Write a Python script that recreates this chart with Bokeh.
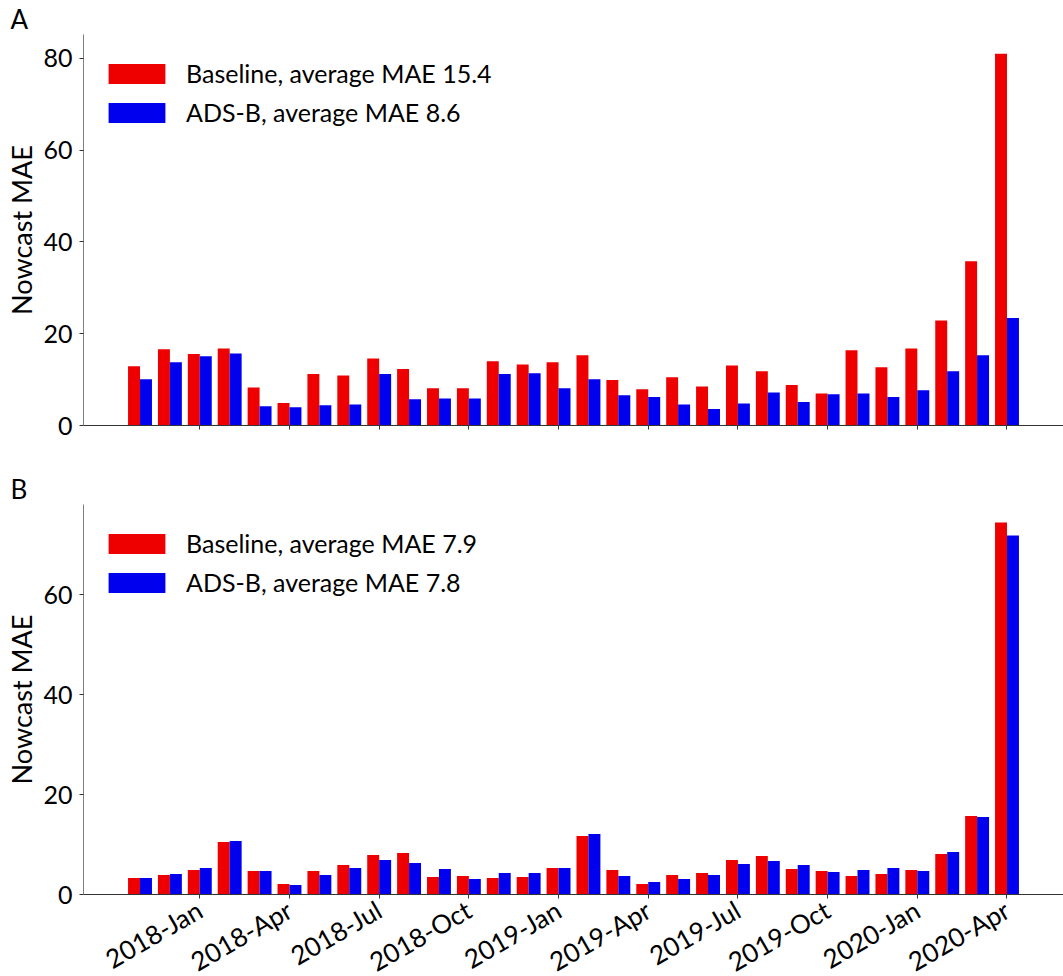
import math
from bokeh.plotting import figure
from bokeh.layouts import column
from bokeh.models import (FixedTicker, Legend, LegendItem, Range1d, Title,
                          ColumnDataSource, LinearAxis)
from bokeh.transform import dodge
from bokeh.embed import file_html
from bokeh.resources import INLINE

months = ["2017-Nov", "2017-Dec",
          "2018-Jan", "2018-Feb", "2018-Mar", "2018-Apr", "2018-May", "2018-Jun",
          "2018-Jul", "2018-Aug", "2018-Sep", "2018-Oct", "2018-Nov", "2018-Dec",
          "2019-Jan", "2019-Feb", "2019-Mar", "2019-Apr", "2019-May", "2019-Jun",
          "2019-Jul", "2019-Aug", "2019-Sep", "2019-Oct", "2019-Nov", "2019-Dec",
          "2020-Jan", "2020-Feb", "2020-Mar", "2020-Apr"]
tick_labels = ["2018-Jan", "2018-Apr", "2018-Jul", "2018-Oct", "2019-Jan",
               "2019-Apr", "2019-Jul", "2019-Oct", "2020-Jan", "2020-Apr"]

a_baseline = [12.9, 16.6, 15.6, 16.8, 8.3, 4.9, 11.2, 10.9, 14.6, 12.3,
              8.1, 8.1, 14.0, 13.3, 13.8, 15.3, 9.9, 7.9, 10.5, 8.5,
              13.1, 11.8, 8.8, 7.0, 16.4, 12.7, 16.8, 22.9, 35.8, 81.0]
a_adsb = [10.1, 13.8, 15.1, 15.7, 4.2, 4.0, 4.4, 4.6, 11.2, 5.7,
          5.9, 5.9, 11.2, 11.4, 8.1, 10.1, 6.6, 6.2, 4.6, 3.6,
          4.8, 7.2, 5.1, 6.8, 7.0, 6.2, 7.7, 11.8, 15.3, 23.4]
b_baseline = [3.3, 3.9, 4.9, 10.5, 4.7, 2.1, 4.7, 5.9, 7.9, 8.3,
              3.5, 3.7, 3.3, 3.5, 5.3, 11.7, 4.9, 2.1, 3.9, 4.3,
              6.9, 7.7, 5.1, 4.7, 3.7, 4.1, 4.9, 8.1, 15.7, 74.5]
b_adsb = [3.3, 4.1, 5.3, 10.7, 4.7, 1.9, 3.9, 5.3, 6.9, 6.3,
          5.1, 3.1, 4.3, 4.3, 5.3, 12.1, 3.7, 2.5, 3.1, 3.9,
          6.1, 6.7, 5.9, 4.5, 4.9, 5.3, 4.7, 8.5, 15.5, 71.9]

a_legend = ["Baseline, average MAE 15.4", "ADS-B, average MAE 8.6"]
b_legend = ["Baseline, average MAE 7.9", "ADS-B, average MAE 7.8"]
panel_letters = ["A", "B"]
y_label = "Nowcast MAE"

RED = "#ee0000"
BLUE = "#0000ee"
FONT = "Lato"

x_idx = list(range(len(months)))
tick_pos = [i for i, m in enumerate(months) if m in tick_labels]
overrides = {i: months[i] for i in tick_pos}

X0, X1 = -1.89, 30.89


def make_panel(base, adsb, legend_labels, letter, ymax, yticks,
               b_top, b_bottom, frame_h, show_xlabels):
    src = ColumnDataSource(dict(x=x_idx, base=base, adsb=adsb))
    p = figure(frame_width=980, frame_height=frame_h, output_backend="svg",
               toolbar_location=None, x_range=Range1d(X0, X1),
               y_range=Range1d(0, ymax),
               min_border_left=83, min_border_right=0,
               min_border_top=b_top, min_border_bottom=b_bottom,
               x_axis_location=None, y_axis_location=None)
    p.outline_line_color = None
    p.xgrid.visible = False
    p.ygrid.visible = False

    t = Title(text=letter, align="left", offset=-73, standoff=0,
              text_font=FONT, text_font_size="26px",
              text_font_style="normal", text_color="black")
    p.add_layout(t, "above")

    r1 = p.vbar(x=dodge("x", -0.2), top="base", width=0.4, source=src,
                fill_color=RED, line_color=None)
    r2 = p.vbar(x=dodge("x", 0.2), top="adsb", width=0.4, source=src,
                fill_color=BLUE, line_color=None)

    xa = LinearAxis(ticker=FixedTicker(ticks=tick_pos),
                    major_label_overrides=overrides)
    xa.axis_line_color = "#333333"
    xa.major_tick_line_color = "#333333"
    xa.major_tick_out = 4
    xa.major_tick_in = 0
    xa.minor_tick_line_color = None
    if show_xlabels:
        xa.major_label_orientation = math.pi / 6
        xa.major_label_text_font = FONT
        xa.major_label_text_font_size = "26px"
        xa.major_label_text_color = "black"
        xa.major_label_standoff = 9
    else:
        xa.major_label_text_font_size = "0px"
        xa.major_label_standoff = 0
    p.add_layout(xa, "below")

    ya = LinearAxis(ticker=FixedTicker(ticks=yticks), axis_label=y_label)
    ya.axis_line_color = "#808080"
    ya.major_tick_line_color = "#333333"
    ya.major_tick_out = 4
    ya.major_tick_in = 0
    ya.minor_tick_line_color = None
    ya.major_label_text_font = FONT
    ya.major_label_text_font_size = "25px"
    ya.major_label_text_color = "black"
    ya.major_label_standoff = 7
    ya.axis_label_text_font = FONT
    ya.axis_label_text_font_size = "27px"
    ya.axis_label_text_font_style = "normal"
    ya.axis_label_text_color = "black"
    ya.axis_label_standoff = 2
    p.add_layout(ya, "left")

    leg = Legend(items=[LegendItem(label=legend_labels[0], renderers=[r1]),
                        LegendItem(label=legend_labels[1], renderers=[r2])],
                 location=(18, frame_h - 93), orientation="vertical",
                 glyph_width=71, glyph_height=25, label_standoff=14,
                 spacing=9, padding=0, margin=0,
                 label_text_font=FONT, label_text_font_size="25px",
                 label_text_color="black",
                 border_line_color=None, background_fill_alpha=0)
    p.add_layout(leg, "center")
    return p


pA = make_panel(a_baseline, a_adsb, a_legend, panel_letters[0], 85.2,
                [0, 20, 40, 60, 80], 33, 39, 391, False)
pB = make_panel(b_baseline, b_adsb, b_legend, panel_letters[1], 78.1,
                [0, 20, 40, 60], 40, 60, 390, True)

layout = column(pA, pB, spacing=0)
open("out.html", "w").write(file_html(layout, INLINE))
